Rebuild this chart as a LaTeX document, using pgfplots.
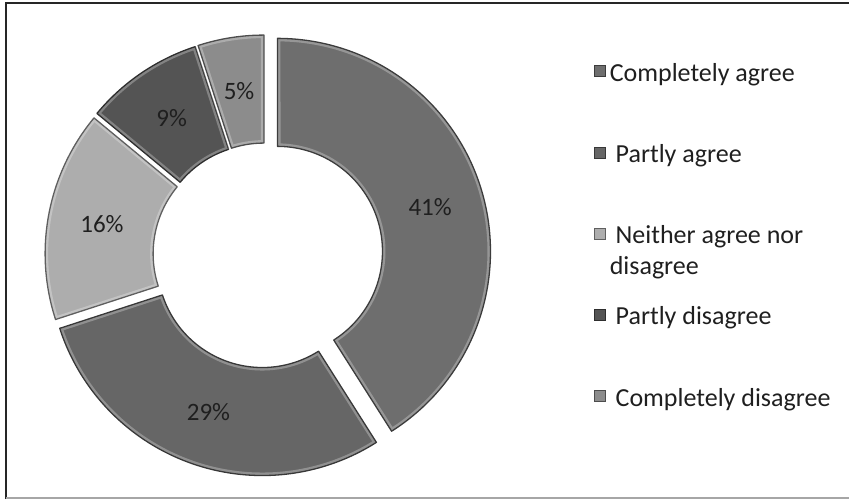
\documentclass[border=0pt]{standalone}
\usepackage{pgfplots}
\pgfplotsset{compat=1.18}
\usepackage{pgfplotstable}
\usepgfplotslibrary{fillbetween}
\usepackage{fontspec}
\setmainfont{Carlito}

\definecolor{segA}{gray}{0.43}
\definecolor{segB}{gray}{0.40}
\definecolor{segC}{gray}{0.68}
\definecolor{segD}{gray}{0.33}
\definecolor{segE}{gray}{0.55}
\definecolor{txt}{gray}{0.12}

% share in percent, explosion offset of each slice
\pgfplotstableread{
share explode
41 13
29 8
16 7
9 7
5 7
}\donutdata

% ring geometry (axis units = pt)
\def\cx{265}\def\cy{244}\def\Rout{213}\def\Rin{105}
\def\runangle{90}
\newcommand\labelfont{\fontsize{25}{30}\selectfont}
\newcommand\legendfont{\fontsize{26}{31}\selectfont}

\newcommand\donutsegment[2]{%
  \pgfplotstablegetelem{#1}{share}\of\donutdata \let\share\pgfplotsretval
  \pgfplotstablegetelem{#1}{explode}\of\donutdata \let\explode\pgfplotsretval
  \pgfmathsetmacro\angA{\runangle}%
  \pgfmathsetmacro\angB{\runangle-3.6*\share}%
  \pgfmathsetmacro\angM{(\angA+\angB)/2}%
  \pgfmathsetmacro\sx{\cx+\explode*cos(\angM)}%
  \pgfmathsetmacro\sy{\cy+\explode*sin(\angM)}%
  \pgfmathsetmacro\lx{\sx+(\Rout+\Rin)/2*cos(\angM)}%
  \pgfmathsetmacro\ly{\sy+(\Rout+\Rin)/2*sin(\angM)}%
  \xdef\runangle{\angB}%
  \edef\doseg{%
    \noexpand\addplot[draw=none, forget plot, name path=out#1, domain=\angB:\angA, samples=150]
      ({\sx+\Rout*cos(x)},{\sy+\Rout*sin(x)});
    \noexpand\addplot[draw=none, forget plot, name path=in#1, domain=\angB:\angA, samples=100]
      ({\sx+\Rin*cos(x)},{\sy+\Rin*sin(x)});
    % body with a light bevel band along the rim
    \noexpand\addplot[fill=#2, draw=white, draw opacity=0.28, line width=6pt,
      line join=round, forget plot] fill between[of=out#1 and in#1];
    % dark rim
    \noexpand\addplot[fill=none, draw=#2!55!black, line width=1.3pt,
      line join=round, forget plot] fill between[of=out#1 and in#1];
    \noexpand\node[font=\noexpand\labelfont, text=txt] at (axis cs:\lx,\ly) {\share\noexpand\%};
  }%
  \doseg
}

\begin{document}
\begin{tikzpicture}
\begin{axis}[
  width=849pt, height=499pt, scale only axis,
  xmin=0, xmax=849, ymin=0, ymax=499,
  hide axis,
  legend cell align=left,
  legend image code/.code={\draw[#1] (0pt,-5.5pt) rectangle (11pt,5.5pt);},
  legend style={at={(0.6995,0.885)}, anchor=north west, draw=none, fill=none,
    font=\legendfont, text=txt, row sep=54pt, column sep=2pt, inner sep=0pt,
    nodes={inner sep=2pt}},
]
\donutsegment{0}{segA}
\donutsegment{1}{segB}
\donutsegment{2}{segC}
\donutsegment{3}{segD}
\donutsegment{4}{segE}

% frame
\draw[line width=2.5pt, black!85] (axis cs:6,0) -- (axis cs:6,496) -- (axis cs:849,496);
\draw[line width=1.5pt, black!35] (axis cs:6,1) -- (axis cs:849,1);

\addlegendimage{fill=segA, draw=segA!55!black, line width=0.7pt}
\addlegendentry{\strut Completely agree}
\addlegendimage{fill=segB, draw=segB!55!black, line width=0.7pt}
\addlegendentry{\strut\ Partly agree}
\addlegendimage{fill=segC, draw=segC!55!black, line width=0.7pt}
\addlegendentry{\raisebox{0pt}[\height][\dp\strutbox]{\parbox[t]{8cm}{\strut\ Neither agree nor\\disagree}}}
\addlegendimage{fill=segD, draw=segD!55!black, line width=0.7pt}
\addlegendentry{\strut\ Partly disagree}
\addlegendimage{fill=segE, draw=segE!55!black, line width=0.7pt}
\addlegendentry{\strut\ Completely disagree}
\end{axis}
\end{tikzpicture}
\end{document}
